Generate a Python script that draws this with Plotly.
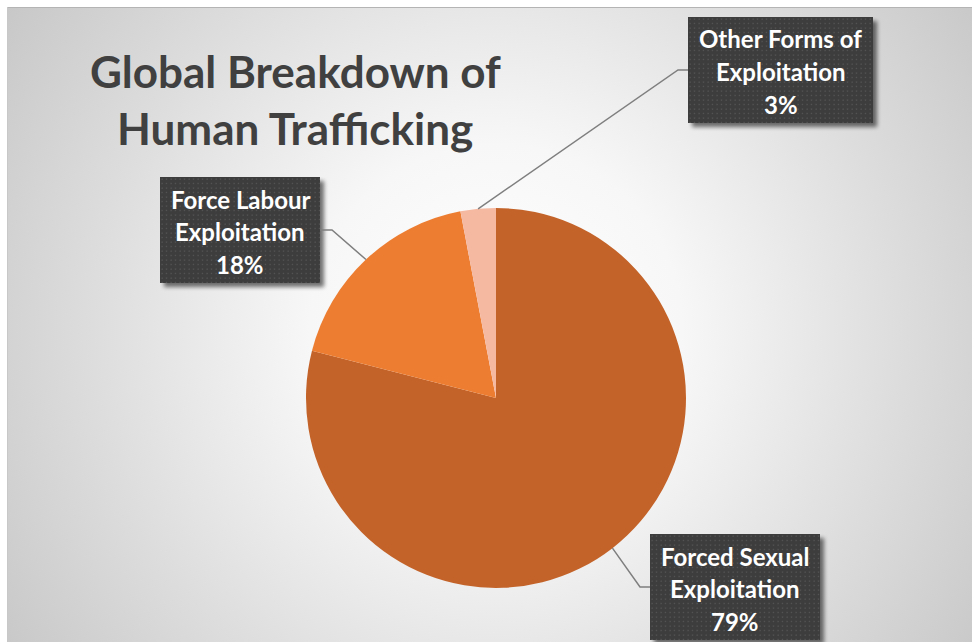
import base64
import math
import plotly.graph_objects as go

# ---- data -------------------------------------------------------------
labels = ["Forced Sexual Exploitation", "Force Labour Exploitation", "Other Forms of Exploitation"]
values = [79, 18, 3]
label_lines = [["Forced Sexual", "Exploitation"],
               ["Force Labour", "Exploitation"],
               ["Other Forms of", "Exploitation"]]
title_lines = ["Global Breakdown of", "Human Trafficking"]

# ---- styling ----------------------------------------------------------
W, H = 972, 642
slice_colors = ["#C46329", "#ED7D31", "#F5B8A1"]
font_family = "Lato"
pie_cx, pie_cy, pie_r = 496, 398, 190

# callout boxes (x0, y0, width, height) in pixels, leader-line elbow point
boxes = [(650, 534, 170, 106), (160, 177, 160, 106), (688, 17, 185, 106)]
elbows = [(640, 587), (332, 230), (678, 70)]


def px(x):
    return x / W


def py(y):
    return 1 - y / H


def svg_uri(svg):
    return "data:image/svg+xml;base64," + base64.b64encode(svg.encode()).decode()


# radial gradient backdrop of the chart area
bg_x0, bg_y0 = 7, 7
bg_w, bg_h = W - bg_x0 + 4, H - bg_y0 + 4
bg_svg = f"""<svg xmlns='http://www.w3.org/2000/svg' width='{bg_w}' height='{bg_h}' viewBox='0 0 {bg_w} {bg_h}'>
<defs><radialGradient id='g' gradientUnits='userSpaceOnUse' cx='{pie_cx - bg_x0}' cy='{330 - bg_y0}' r='620'>
<stop offset='0' stop-color='#FFFFFF'/><stop offset='0.3' stop-color='#F7F7F7'/>
<stop offset='0.65' stop-color='#DDDDDD'/><stop offset='1' stop-color='#C4C4C4'/></radialGradient></defs>
<rect x='0' y='0' width='{bg_w}' height='{bg_h}' fill='url(#g)'/>
<line x1='0' y1='0.5' x2='{bg_w}' y2='0.5' stroke='#B4B4B4' stroke-width='1'/>
<line x1='0.5' y1='0' x2='0.5' y2='{bg_h}' stroke='#C8C8C8' stroke-width='1'/>
</svg>"""


def box_svg(w, h, pad=10):
    tw, th = w + pad, h + pad
    return f"""<svg xmlns='http://www.w3.org/2000/svg' width='{tw}' height='{th}' viewBox='0 0 {tw} {th}'>
<defs>
<pattern id='p' width='4.5' height='4.5' patternUnits='userSpaceOnUse'>
<rect width='4.5' height='4.5' fill='#3C3C3C'/><rect x='1.5' y='1.5' width='1.2' height='1.2' fill='#5E5E5E'/></pattern>
<filter id='s' x='-10%' y='-10%' width='130%' height='130%'>
<feGaussianBlur in='SourceAlpha' stdDeviation='2.2'/><feOffset dx='4' dy='4' result='b'/>
<feComponentTransfer><feFuncA type='linear' slope='0.55'/></feComponentTransfer>
<feMerge><feMergeNode/><feMergeNode in='SourceGraphic'/></feMerge></filter></defs>
<rect x='0' y='0' width='{w}' height='{h}' fill='url(#p)' filter='url(#s)'/>
</svg>"""


fig = go.Figure()

fig.add_trace(go.Pie(
    labels=labels,
    values=values,
    sort=False,
    direction="clockwise",
    rotation=0,
    textinfo="none",
    hoverinfo="label+percent",
    marker=dict(colors=slice_colors, line=dict(width=0)),
    domain=dict(x=[px(pie_cx - pie_r), px(pie_cx + pie_r)],
                y=[py(pie_cy + pie_r), py(pie_cy - pie_r)]),
    showlegend=False,
))

images = [dict(source=svg_uri(bg_svg), xref="paper", yref="paper",
               x=px(bg_x0), y=py(bg_y0), sizex=bg_w / W, sizey=bg_h / H,
               xanchor="left", yanchor="top", sizing="stretch", layer="below")]

shapes = []
annotations = []

total = sum(values)
cum = 0.0
for i, v in enumerate(values):
    # mid-angle of the slice, measured clockwise from 12 o'clock
    mid = (cum + v / 2) / total * 2 * math.pi
    cum += v
    sx = pie_cx + pie_r * math.sin(mid)
    sy = pie_cy - pie_r * math.cos(mid)
    bx, by, bw, bh = boxes[i]
    ex, ey = elbows[i]
    end_x = bx if ex <= bx else bx + bw
    path = f"M {px(sx)},{py(sy)} L {px(ex)},{py(ey)} L {px(end_x)},{py(ey)}"
    shapes.append(dict(type="path", path=path, xref="paper", yref="paper",
                       line=dict(color="#7F7F7F", width=1.5), layer="above"))

    pad = 10
    images.append(dict(source=svg_uri(box_svg(bw, bh, pad)), xref="paper", yref="paper",
                       x=px(bx), y=py(by), sizex=(bw + pad) / W, sizey=(bh + pad) / H,
                       xanchor="left", yanchor="top", sizing="stretch", layer="above"))

    pct = f"{round(v / total * 100)}%"
    lines = label_lines[i] + [pct]
    for j, t in enumerate(lines):
        annotations.append(dict(
            text=f"<b>{t}</b>", x=px(bx + bw / 2), y=py(by + 22 + 32.5 * j),
            xref="paper", yref="paper", xanchor="center", yanchor="middle",
            showarrow=False, font=dict(family=font_family, size=24, color="#FFFFFF")))

for j, t in enumerate(title_lines):
    annotations.append(dict(
        text=f"<b>{t}</b>", x=px(295), y=py(71 + 57 * j),
        xref="paper", yref="paper", xanchor="center", yanchor="middle",
        showarrow=False, font=dict(family=font_family, size=44, color="#404040")))

fig.update_layout(
    width=W, height=H,
    margin=dict(l=0, r=0, t=0, b=0),
    paper_bgcolor="#FFFFFF",
    plot_bgcolor="rgba(0,0,0,0)",
    images=images,
    shapes=shapes,
    annotations=annotations,
)

fig.write_html("out.html")
